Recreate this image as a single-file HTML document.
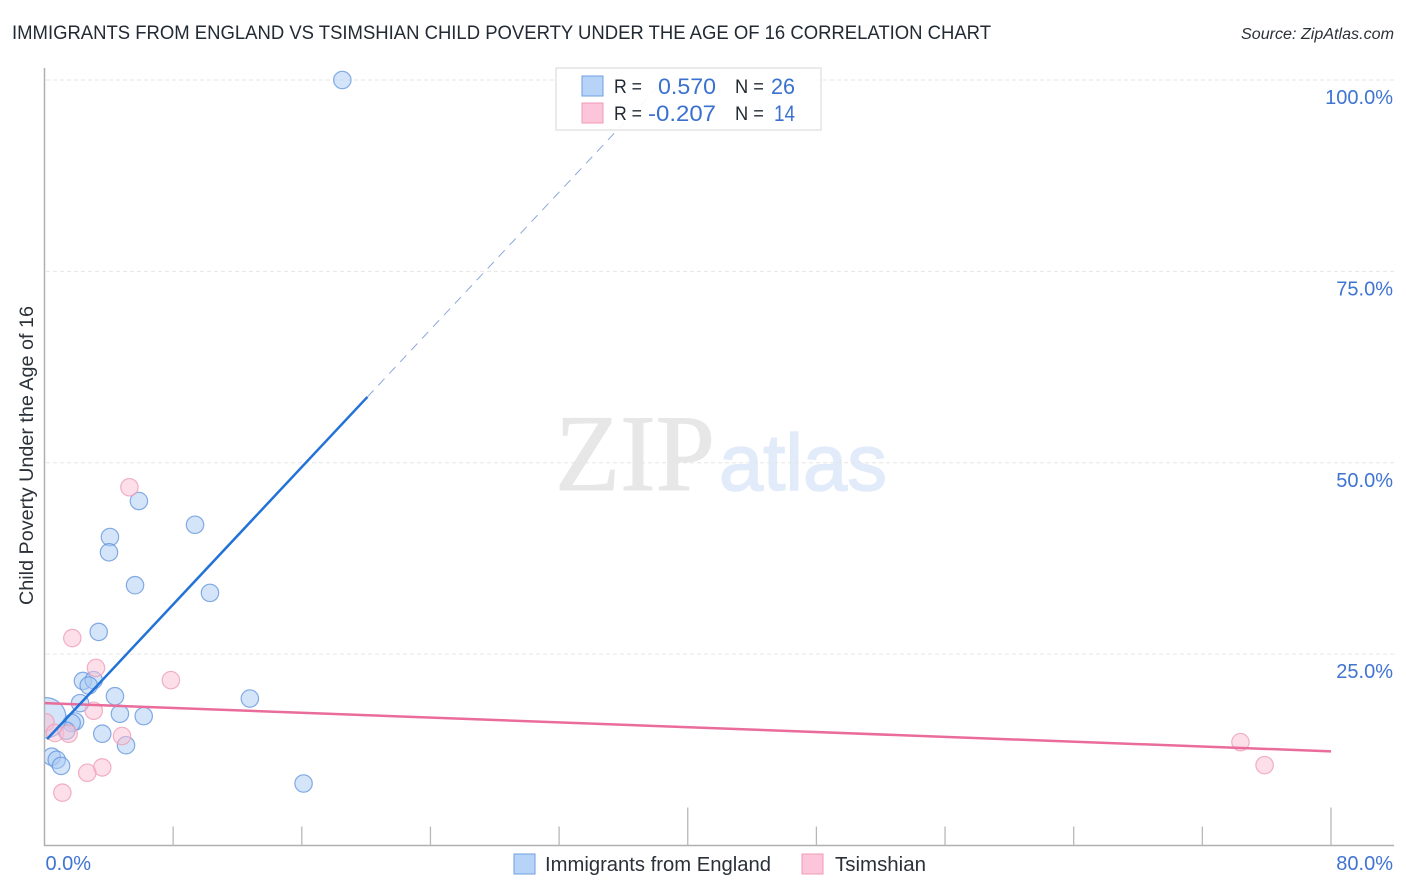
<!DOCTYPE html>
<html lang="en">
<head>
<meta charset="utf-8">
<title>Immigrants from England vs Tsimshian Child Poverty Correlation Chart</title>
<style>
html,body{margin:0;padding:0;background:#fff;width:1406px;height:892px;overflow:hidden}
svg{display:block}
text{font-family:"Liberation Sans",sans-serif}
</style>
</head>
<body>
<svg id="chart" width="1406" height="892" viewBox="0 0 1406 892" xmlns="http://www.w3.org/2000/svg">
  <defs>
    <clipPath id="plot-clip"><rect x="45" y="60" width="1349" height="785"/></clipPath>
  </defs>
  <rect x="0" y="0" width="1406" height="892" fill="#fff"/>
  <text x="12" y="39" font-size="19.5" fill="#222a33" textLength="979" lengthAdjust="spacingAndGlyphs">IMMIGRANTS FROM ENGLAND VS TSIMSHIAN CHILD POVERTY UNDER THE AGE OF 16 CORRELATION CHART</text>
  <text x="1241" y="39" font-size="15.5" font-style="italic" fill="#2b3138" textLength="153" lengthAdjust="spacingAndGlyphs">Source: ZipAtlas.com</text>

  <g id="watermark">
    <text x="555" y="490" font-size="109" fill="#e7e7e7" stroke="#e7e7e7" stroke-width="1" textLength="160" lengthAdjust="spacingAndGlyphs" style="font-family:'Liberation Serif',serif">ZIP</text>
    <text x="719" y="490" font-size="80" fill="#e1ebfa" stroke="#e1ebfa" stroke-width="1.5" textLength="168" lengthAdjust="spacingAndGlyphs">atlas</text>
  </g>

  <g id="grid"></g>
  <g id="axes"></g>
  <g id="points" clip-path="url(#plot-clip)"></g>
  <g id="trends" clip-path="url(#plot-clip)"></g>
  <g id="tick-labels"></g>

  <text transform="translate(33,605) rotate(-90)" font-size="19" fill="#2b3138" textLength="299" lengthAdjust="spacingAndGlyphs">Child Poverty Under the Age of 16</text>

  <g>
    <rect x="556" y="68" width="265" height="62" fill="#fff" fill-opacity="0.92" stroke="#e4e4e4" stroke-width="1.5"/>
    <rect x="582" y="76" width="21" height="20" fill="#b8d3f8" stroke="#6f9fdf" stroke-width="1"/>
    <rect x="582" y="103" width="21" height="20" fill="#fdc5d9" stroke="#f099b6" stroke-width="1"/>
    <text x="614" y="93" font-size="19" fill="#222a33" textLength="28" lengthAdjust="spacingAndGlyphs">R =</text>
    <text x="658" y="94" font-size="22" fill="#3a70cf" textLength="58" lengthAdjust="spacingAndGlyphs">0.570</text>
    <text x="735" y="93" font-size="19" fill="#222a33" textLength="29" lengthAdjust="spacingAndGlyphs">N =</text>
    <text x="771" y="94" font-size="22" fill="#3a70cf" textLength="24" lengthAdjust="spacingAndGlyphs">26</text>
    <text x="614" y="120" font-size="19" fill="#222a33" textLength="28" lengthAdjust="spacingAndGlyphs">R =</text>
    <text x="648" y="121" font-size="22" fill="#3a70cf" textLength="68" lengthAdjust="spacingAndGlyphs">-0.207</text>
    <text x="735" y="120" font-size="19" fill="#222a33" textLength="29" lengthAdjust="spacingAndGlyphs">N =</text>
    <text x="774" y="121" font-size="22" fill="#3a70cf" textLength="21" lengthAdjust="spacingAndGlyphs">14</text>
  </g>

  <g>
    <rect x="514" y="854" width="21" height="20" fill="#b8d3f8" stroke="#6f9fdf" stroke-width="1"/>
    <text x="545" y="871" font-size="20" fill="#2b3138" textLength="226" lengthAdjust="spacingAndGlyphs">Immigrants from England</text>
    <rect x="802" y="854" width="21" height="20" fill="#fdc5d9" stroke="#f099b6" stroke-width="1"/>
    <text x="835" y="871" font-size="20" fill="#2b3138" textLength="91" lengthAdjust="spacingAndGlyphs">Tsimshian</text>
  </g>
</svg>
<script>
const xTickValues = [0, 8, 16, 24, 32, 40, 48, 56, 64, 72, 80];
const xLabelValues = [0, 80];
const xLabels = ['0.0%', '80.0%'];
const yTickValues = [25, 50, 75, 100];
const yLabels = ['25.0%', '50.0%', '75.0%', '100.0%'];

const englandX = [18.52, 5.87, 4.07, 4.01, 9.36, 5.63, 10.29, 3.37, 2.39, 3.06, 2.75, 2.21, 4.38, 4.69, 6.17, 12.77, 3.59, 5.07, 1.90, 1.69, 1.36, 0.45, 0.76, 1.03, 16.11, 0.09];
const englandY = [100, 45.0, 40.3, 38.3, 41.9, 34.0, 33.0, 27.9, 21.5, 21.6, 20.9, 18.6, 19.5, 17.2, 16.9, 19.2, 14.6, 13.1, 16.2, 16.0, 15.0, 11.6, 11.2, 10.4, 8.1, 16.7];
const englandWeight = [1, 1, 1, 1, 1, 1, 1, 1, 1, 1, 1, 1, 1, 1, 1, 1, 1, 1, 1, 1, 1, 1, 1, 1, 1, 5.3];

const tsimshianX = [1.73, 3.20, 7.86, 3.06, 0.06, 0.65, 1.50, 4.82, 3.59, 2.66, 1.11, 5.28, 74.37, 75.87];
const tsimshianY = [27.1, 23.2, 21.6, 17.6, 16.1, 14.7, 14.6, 14.3, 10.2, 9.5, 6.9, 46.8, 13.5, 10.5];

const englandTrendX = [0.16, 20.08];
const englandTrendY = [13.9, 58.6];
const englandTrendDashX = [20.08, 38.53];
const englandTrendDashY = [58.6, 100];
const tsimshianTrendX = [0, 80];
const tsimshianTrendY = [18.6, 12.3];

const SVG_NS = 'http://www.w3.org/2000/svg';
const xPos = v => 44.5 + v * (1331 - 44.5) / 80;
const yPos = v => 845.5 - v * (845.5 - 80) / 100;
const radius = w => 8.7 * Math.sqrt(w);

function make(tag, attrs, parent) {
  const el = document.createElementNS(SVG_NS, tag);
  for (const k in attrs) el.setAttribute(k, attrs[k]);
  parent.appendChild(el);
  return el;
}

const gridG = document.getElementById('grid');


yTickValues.forEach(v => {
  const line = make('line', {x1: 46, x2: 1394, y1: yPos(v), y2: yPos(v), stroke: '#e6e6e6', 'stroke-width': 1, 'stroke-dasharray': '4 3'}, gridG);
  
  
});

const axesG = document.getElementById('axes');


const yAxis = make('line', {x1: 44.5, x2: 44.5, y1: 68, y2: 846, stroke: '#b0b0b0', 'stroke-width': 1.5}, axesG);


const xAxis = make('line', {x1: 44, x2: 1394, y1: 845.5, y2: 845.5, stroke: '#b0b0b0', 'stroke-width': 1.5}, axesG);


xTickValues.slice(1).forEach(v => {
  const top = (v % 40 === 0) ? 807.5 : 826.5;
  const tick = make('line', {x1: xPos(v), x2: xPos(v), y1: top, y2: 845.5, stroke: '#b8b8b8', 'stroke-width': 1.3}, axesG);
  
  
});

const labelsG = document.getElementById('tick-labels');


yTickValues.forEach((v, i) => {
  const t = make('text', {x: 1393, y: yPos(v) + 24, 'text-anchor': 'end', 'font-size': 20, fill: '#3f74d2'}, labelsG);
  t.textContent = yLabels[i];
  
  
});
xLabelValues.forEach((v, i) => {
  const t = make('text', {x: i === 0 ? xPos(v) + 1 : 1393, y: 870, 'text-anchor': i === 0 ? 'start' : 'end', 'font-size': 20, fill: '#3f74d2'}, labelsG);
  t.textContent = xLabels[i];
  
  
});

const pointsG = document.getElementById('points');


englandX.forEach((x, i) => {
  const c = make('circle', {cx: xPos(x), cy: yPos(englandY[i]), r: radius(englandWeight[i]), fill: '#a9c9f3', 'fill-opacity': 0.5, stroke: '#5d92dc', 'stroke-opacity': 0.75, 'stroke-width': 1.2}, pointsG);
  
  
});
tsimshianX.forEach((x, i) => {
  const c = make('circle', {cx: xPos(x), cy: yPos(tsimshianY[i]), r: radius(1), fill: '#fbc0d3', 'fill-opacity': 0.5, stroke: '#ef9db8', 'stroke-opacity': 0.8, 'stroke-width': 1.2}, pointsG);
  
  
});

const trendsG = document.getElementById('trends');


const pinkLine = make('line', {x1: xPos(tsimshianTrendX[0]), y1: yPos(tsimshianTrendY[0]), x2: xPos(tsimshianTrendX[1]), y2: yPos(tsimshianTrendY[1]), stroke: '#ea6c9b', 'stroke-width': 2.5}, trendsG);


const blueLine = make('line', {x1: xPos(englandTrendX[0]), y1: yPos(englandTrendY[0]), x2: xPos(englandTrendX[1]), y2: yPos(englandTrendY[1]), stroke: '#2272d8', 'stroke-width': 2.5}, trendsG);


const blueDash = make('line', {x1: xPos(englandTrendDashX[0]), y1: yPos(englandTrendDashY[0]), x2: xPos(englandTrendDashX[1]), y2: yPos(englandTrendDashY[1]), stroke: '#8ea7dd', 'stroke-width': 1, 'stroke-dasharray': '9 7'}, trendsG);


</script>
</body>
</html>
